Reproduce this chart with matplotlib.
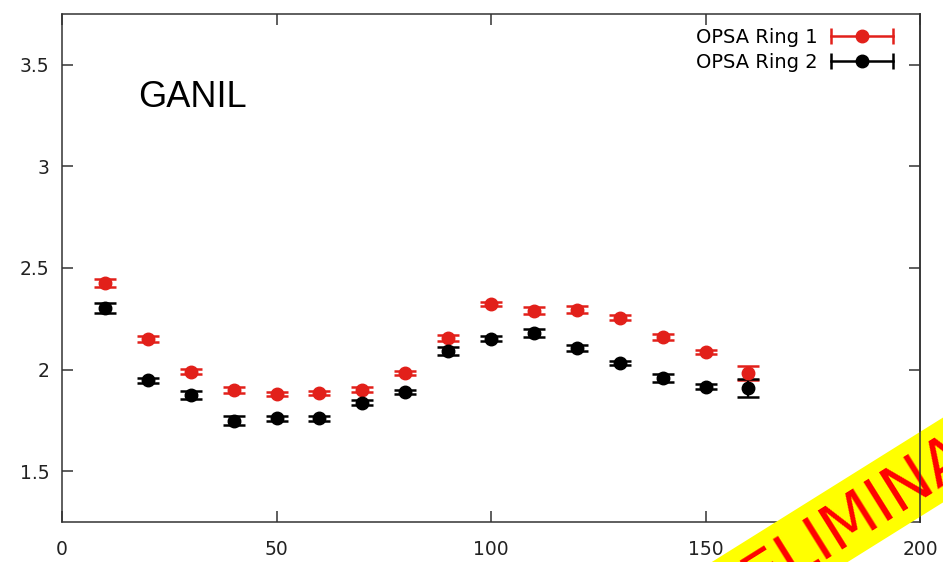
import numpy as np
import matplotlib
matplotlib.use('Agg')
from matplotlib import pyplot as pp
from matplotlib.lines import Line2D
from matplotlib.patches import Polygon
from matplotlib.legend_handler import HandlerLine2D

# OPSA ring ratios vs angle
angle = [10, 20, 30, 40, 50, 60, 70, 80, 90, 100, 110, 120, 130, 140, 150, 160]
ring1 = [2.426, 2.152, 1.990, 1.900, 1.880, 1.887, 1.902, 1.985, 2.155, 2.325, 2.290, 2.295, 2.255, 2.162, 2.087, 1.985]
ring1_err = [0.020, 0.015, 0.012, 0.015, 0.010, 0.010, 0.012, 0.010, 0.015, 0.010, 0.018, 0.018, 0.012, 0.015, 0.010, 0.035]
ring2 = [2.302, 1.948, 1.873, 1.748, 1.760, 1.760, 1.838, 1.890, 2.093, 2.152, 2.180, 2.108, 2.034, 1.960, 1.915, 1.910]
ring2_err = [0.025, 0.012, 0.020, 0.022, 0.012, 0.012, 0.012, 0.012, 0.020, 0.012, 0.020, 0.015, 0.010, 0.020, 0.012, 0.045]

xticks = [0, 50, 100, 150, 200]
yticks = [1.5, 2, 2.5, 3, 3.5]
ytick_labels = ['1.5', '2', '2.5', '3', '3.5']

red = '#e2201a'
black = '#000000'

W, H = 943, 562
fig = pp.figure(figsize=(W/100, H/100), dpi=100)
ax = fig.add_axes([62/W, 1-522/H, 858/W, 508/H])

for y, err, c in [(ring1, ring1_err, red), (ring2, ring2_err, black)]:
  ax.errorbar(angle, y, yerr=err, fmt='o', color=c, markersize=9,
              elinewidth=1.6, capsize=8, capthick=1.8, zorder=5)

ax.set_xlim(0, 200)
ax.set_ylim(1.25, 3.75)
ax.set_xticks(xticks)
ax.set_yticks(yticks)
ax.set_yticklabels(ytick_labels)
ax.tick_params(direction='in', length=8, width=1.1, color='#333333',
               top=True, right=True, labelsize=13.5, labelcolor='#222222')
ax.tick_params(axis='x', pad=13)
ax.tick_params(axis='y', pad=9)
for s in ax.spines.values():
  s.set_linewidth(1.1)
  s.set_color('#333333')

ax.text(0.0886, 0.817, 'GANIL', transform=ax.transAxes, fontsize=26,
        family='Liberation Sans', color='black')

# legend: label first, then a horizontal bar with end caps and a dot
handles = []
hmap = {}
for c in [red, black]:
  bar = Line2D([], [], color=c, lw=1.8, marker='|', markersize=11, mew=1.8)
  dot = Line2D([], [], color=c, marker='o', markersize=9, ls='none')
  hmap[bar] = HandlerLine2D(numpoints=2, marker_pad=0)
  hmap[dot] = HandlerLine2D(numpoints=1)
  handles.append((bar, dot))
ax.legend(handles, ['OPSA Ring 1', 'OPSA Ring 2'], handler_map=hmap,
          loc='upper right', bbox_to_anchor=(0.9685, 0.972), borderaxespad=0,
          borderpad=0, frameon=False, markerfirst=False, fontsize=14,
          handlelength=3.2, handletextpad=0.67, labelspacing=0.28)

# PRELIMINARY banner across the lower right corner (pixel geometry, y down)
ang = 32
d = np.array([np.cos(np.radians(ang)), -np.sin(np.radians(ang))])
n = np.array([np.sin(np.radians(ang)), np.cos(np.radians(ang))])
c0 = np.array([943.0, 460.0])   # point on the band's centre line
half = 36.0
corners = [c0 - 600*d - half*n, c0 + 200*d - half*n,
           c0 + 200*d + half*n, c0 - 600*d + half*n]
corners = [(p[0]/W, 1 - p[1]/H) for p in corners]
fig.add_artist(Polygon(corners, closed=True, transform=fig.transFigure,
                       facecolor='#ffff00', edgecolor='none', zorder=20))
tc = c0 - 104*d + 2*n
fig.text(tc[0]/W, 1 - tc[1]/H, 'PRELIMINARY', color='#ff0000',
         fontsize=45, rotation=ang, rotation_mode='anchor', ha='center',
         va='center', zorder=21)

# right border stays visible on top of the banner
fig.add_artist(Line2D([1, 1], [0, 1], transform=ax.transAxes, color='#333333',
                      lw=1.1, zorder=22))

pp.savefig('out.png', dpi=100)
